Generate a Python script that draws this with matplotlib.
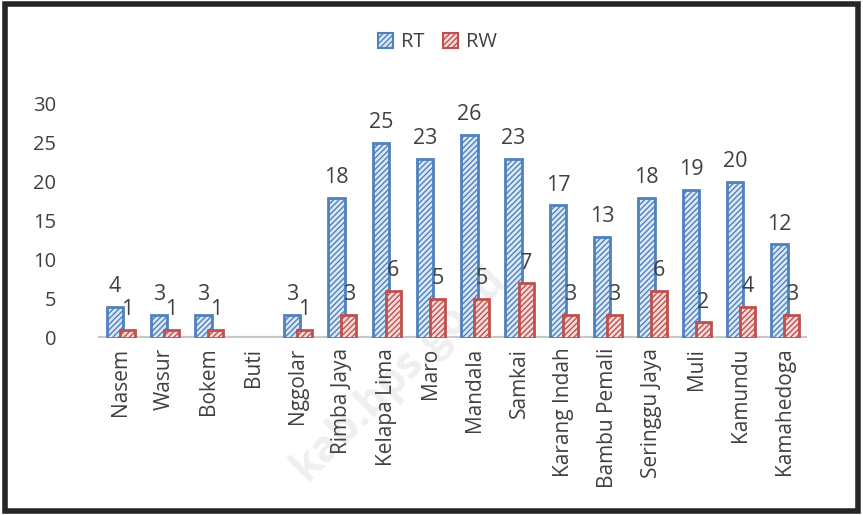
import matplotlib.pyplot as plt
from matplotlib.patches import Rectangle, Patch
import numpy as np

plt.rcParams['font.family'] = ['Open Sans', 'DejaVu Sans']
plt.rcParams['hatch.linewidth'] = 1.0

# data
villages = ['Nasem', 'Wasur', 'Bokem', 'Buti', 'Nggolar', 'Rimba Jaya', 'Kelapa Lima',
            'Maro', 'Mandala', 'Samkai', 'Karang Indah', 'Bambu Pemali',
            'Seringgu Jaya', 'Muli', 'Kamundu', 'Kamahedoga']
rt = [4, 3, 3, 0, 3, 18, 25, 23, 26, 23, 17, 13, 18, 19, 20, 12]
rw = [1, 1, 1, 0, 1, 3, 6, 5, 5, 7, 3, 3, 6, 2, 4, 3]

text_col = '#404040'
blue_edge, blue_fill = '#4f81bd', '#dce8f6'
red_edge, red_fill = '#c0504d', '#f6dcdb'

fig = plt.figure(figsize=(8.63, 5.15), dpi=100)
ax = fig.add_axes([0.1136, 0.3437, 0.8215, 0.4544])
ax.patch.set_alpha(0)

x = np.arange(len(villages))

# watermark (faint, behind everything)
fig.text(0.462, 0.275, 'kab.bps.go.id', rotation=45, fontsize=31, fontweight='bold',
         color='#efefef', ha='center', va='center', zorder=-5)

# baseline
ax.axhline(0, color='#c8c8c8', lw=3, zorder=1)

for i in x:
    if rt[i] > 0:
        ax.bar(i - 0.12, rt[i], width=0.37, color=blue_fill, edgecolor=blue_edge,
               hatch='//////', lw=2, zorder=3)
        ax.annotate(str(rt[i]), (i - 0.12, rt[i]), xytext=(0, 7), textcoords='offset points',
                    ha='center', va='bottom', fontsize=15.5, color=text_col)
    if rw[i] > 0:
        ax.bar(i + 0.16, rw[i], width=0.34, color=red_fill, edgecolor=red_edge,
               hatch='//////', lw=2, zorder=4)
        ax.annotate(str(rw[i]), (i + 0.16, rw[i]), xytext=(0, 7), textcoords='offset points',
                    ha='center', va='bottom', fontsize=15.5, color=text_col)

ax.set_xlim(-0.5, len(villages) - 0.5)
ax.set_ylim(0, 30)
ax.set_yticks(range(0, 31, 5))
ax.set_xticks(x)
ax.set_xticklabels(villages, rotation=90, fontsize=15, color=text_col)
ax.tick_params(axis='y', labelsize=14.5, colors=text_col, length=0, pad=30)
ax.tick_params(axis='x', length=0, pad=7)
for s in ax.spines.values():
    s.set_visible(False)

handles = [Patch(facecolor=blue_fill, edgecolor=blue_edge, hatch='//////', lw=1.5, label='RT'),
           Patch(facecolor=red_fill, edgecolor=red_edge, hatch='//////', lw=1.5, label='RW')]
fig.legend(handles=handles, loc='center', bbox_to_anchor=(0.507, 0.918), ncol=2,
           frameon=False, fontsize=14.5, handlelength=0.75, handleheight=0.75,
           handletextpad=0.4, columnspacing=0.9, labelcolor=text_col)

# chart frame
fig.patches.append(Rectangle((0.006, 0.008), 0.988, 0.984, transform=fig.transFigure,
                             fill=False, edgecolor='#262626', lw=4))

fig.savefig('out.png', dpi=100)
